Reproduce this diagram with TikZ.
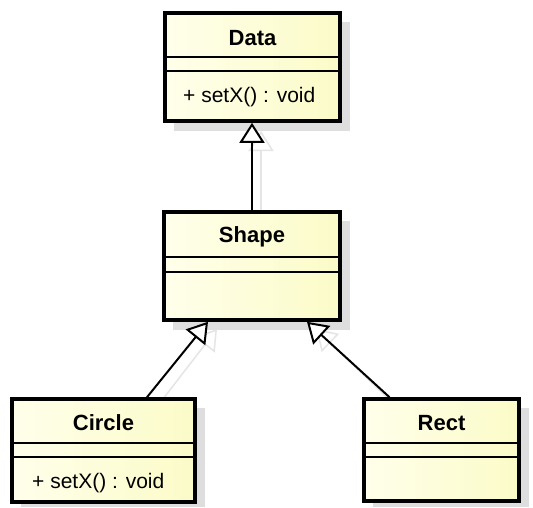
\documentclass[tikz,border=0pt]{standalone}
\usepackage{fontspec}
\setmainfont{Liberation Sans}
\usetikzlibrary{arrows.meta,calc}
\tikzset{
  umlbox/.style={draw=black, line width=3.6pt, rectangle, inner sep=0pt,
    left color={rgb,255:red,255;green,255;blue,235}, right color={rgb,255:red,251;green,251;blue,200}},
  boxshadow/.style={fill=black!13, draw=none},
  sep/.style={draw=black, line width=1.4pt},
  title/.style={font=\fontsize{22}{26}\selectfont\bfseries, inner sep=0pt},
  member/.style={font=\fontsize{21}{25}\selectfont, inner sep=0pt, anchor=west},
  inh/.style={draw=black, line width=2pt, -{Triangle[open, length=20pt, width=25pt, fill=white]}},
  inhshadow/.style={draw=black!10, line width=1.5pt, -{Triangle[open, length=20pt, width=25pt]}}
}
\begin{document}
\begin{tikzpicture}[x=1pt, y=-1pt]
\fill[white] (0,0) rectangle (533,507);
\useasboundingbox (0,0) rectangle (533,507);

% box shadows
\fill[boxshadow] (174,22) rectangle (350,131);
\fill[boxshadow] (173,221) rectangle (350,330);
\fill[boxshadow] (21,408) rectangle (205,507);
\fill[boxshadow] (373,408) rectangle (529,507);

% connector shadows
\draw[inhshadow] (261,221) -- (261,131);
\draw[inhshadow] (156,408) -- (217,329);
\draw[inhshadow] (398,408) -- (316,329);

% boxes
\node[umlbox, minimum width=175pt, minimum height=108pt] (data) at (252.5,67) {};
\node[umlbox, minimum width=176pt, minimum height=108pt] (shape) at (252,266) {};
\node[umlbox, minimum width=183pt, minimum height=103pt] (circle) at (103.5,450.5) {};
\node[umlbox, minimum width=155pt, minimum height=102pt] (rect) at (441.5,450) {};

% separators
\draw[sep] (data.west |- 0,57) -- (data.east |- 0,57);
\draw[sep] (data.west |- 0,71) -- (data.east |- 0,71);
\draw[sep] (shape.west |- 0,257) -- (shape.east |- 0,257);
\draw[sep] (shape.west |- 0,272) -- (shape.east |- 0,272);
\draw[sep] (circle.west |- 0,443) -- (circle.east |- 0,443);
\draw[sep] (circle.west |- 0,457) -- (circle.east |- 0,457);
\draw[sep] (rect.west |- 0,443) -- (rect.east |- 0,443);
\draw[sep] (rect.west |- 0,457) -- (rect.east |- 0,457);

% texts
\node[title] (datat) at (252.5,38) {Data};
\node[member] (datam) at (183,97) {+ setX() : void};
\node[title] (shapet) at (252,237) {Shape};
\node[title] (circlet) at (103.5,423) {Circle};
\node[member] (circlem) at (32,483) {+ setX() : void};
\node[title] (rectt) at (441.5,423) {Rect};

% generalizations
\draw[inh] (shape.north) -- (shape.north |- data.south);
\draw[inh] ($(circle.north)+(43.5,0)$) -- ($(shape.south)+(-44,0)$);
\draw[inh] ($(rect.north)+(-52,0)$) -- ($(shape.south)+(55,0)$);
\end{tikzpicture}
\end{document}
